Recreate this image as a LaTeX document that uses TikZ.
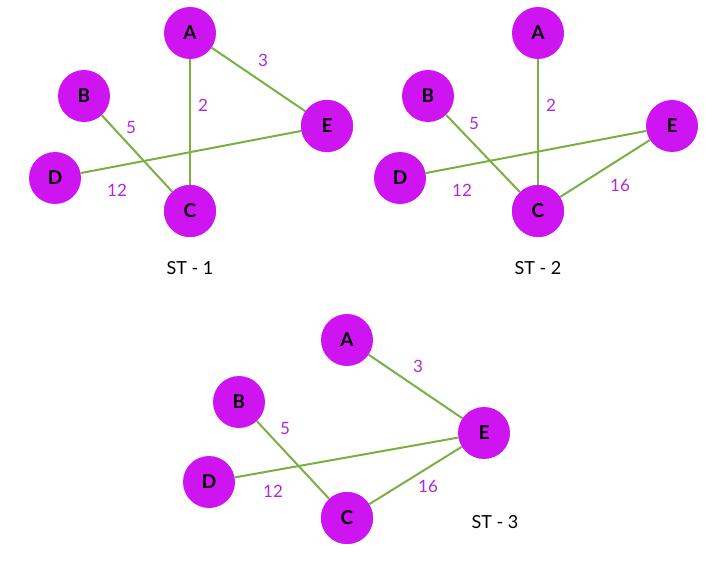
\documentclass[tikz,border=0pt]{standalone}
\usepackage{fontspec}
\setmainfont{Lato}
\definecolor{vtx}{RGB}{206,20,240}
\definecolor{edg}{RGB}{122,176,66}
\definecolor{wt}{RGB}{176,40,220}
\begin{document}
\begin{tikzpicture}[x=1pt,y=-1pt,
    vertex/.style={circle,fill=vtx,minimum size=52pt,inner sep=0pt,font=\fontsize{19}{19}\selectfont\bfseries},
    edge/.style={draw=edg,line width=2pt},
    weight/.style={text=wt,font=\fontsize{17}{17}\selectfont},
    caption/.style={font=\fontsize{18}{18}\selectfont}]
    \useasboundingbox (0,0) rectangle (720,561);

    % ST - 1
    \node[vertex] (A1) at (190,33) {A};
    \node[vertex] (B1) at (84,96) {B};
    \node[vertex] (E1) at (327,126) {E};
    \node[vertex] (D1) at (55,178) {D};
    \node[vertex] (C1) at (190,211) {C};
    \begin{scope}[on background layer/.style={}]
    \end{scope}
    \draw[edge] (A1) -- (C1);
    \draw[edge] (A1) -- (E1);
    \draw[edge] (B1) -- (C1);
    \draw[edge] (D1) -- (E1);
    \node[vertex] at (C1) {C};
    \node[vertex] at (E1) {E};
    \node[weight] (w13) at (263,60) {3};
    \node[weight] (w12) at (203,105) {2};
    \node[weight] (w15) at (131,127) {5};
    \node[weight] (w112) at (117,190) {12};
    \node[caption] (st1) at (190,268) {ST - 1};

    % ST - 2
    \node[vertex] (A2) at (538,33) {A};
    \node[vertex] (B2) at (428,96) {B};
    \node[vertex] (E2) at (672,126) {E};
    \node[vertex] (D2) at (400,178) {D};
    \node[vertex] (C2) at (538,211) {C};
    \draw[edge] (A2) -- (C2);
    \draw[edge] (B2) -- (C2);
    \draw[edge] (D2) -- (E2);
    \draw[edge] (C2) -- (E2);
    \node[vertex] at (C2) {C};
    \node[weight] (w22) at (551,105) {2};
    \node[weight] (w25) at (474,123) {5};
    \node[weight] (w212) at (462,190) {12};
    \node[weight] (w216) at (620,185) {16};
    \node[caption] (st2) at (538,268) {ST - 2};

    % ST - 3
    \node[vertex] (A3) at (347,340) {A};
    \node[vertex] (B3) at (239,402) {B};
    \node[vertex] (E3) at (484,433) {E};
    \node[vertex] (D3) at (209,482) {D};
    \node[vertex] (C3) at (347,518) {C};
    \draw[edge] (A3) -- (E3);
    \draw[edge] (B3) -- (C3);
    \draw[edge] (D3) -- (E3);
    \draw[edge] (C3) -- (E3);
    \node[vertex] at (C3) {C};
    \node[weight] (w33) at (418,366) {3};
    \node[weight] (w35) at (285,428) {5};
    \node[weight] (w312) at (273,491) {12};
    \node[weight] (w316) at (428,486) {16};
    \node[caption] (st3) at (495,522) {ST - 3};
\end{tikzpicture}
\end{document}
